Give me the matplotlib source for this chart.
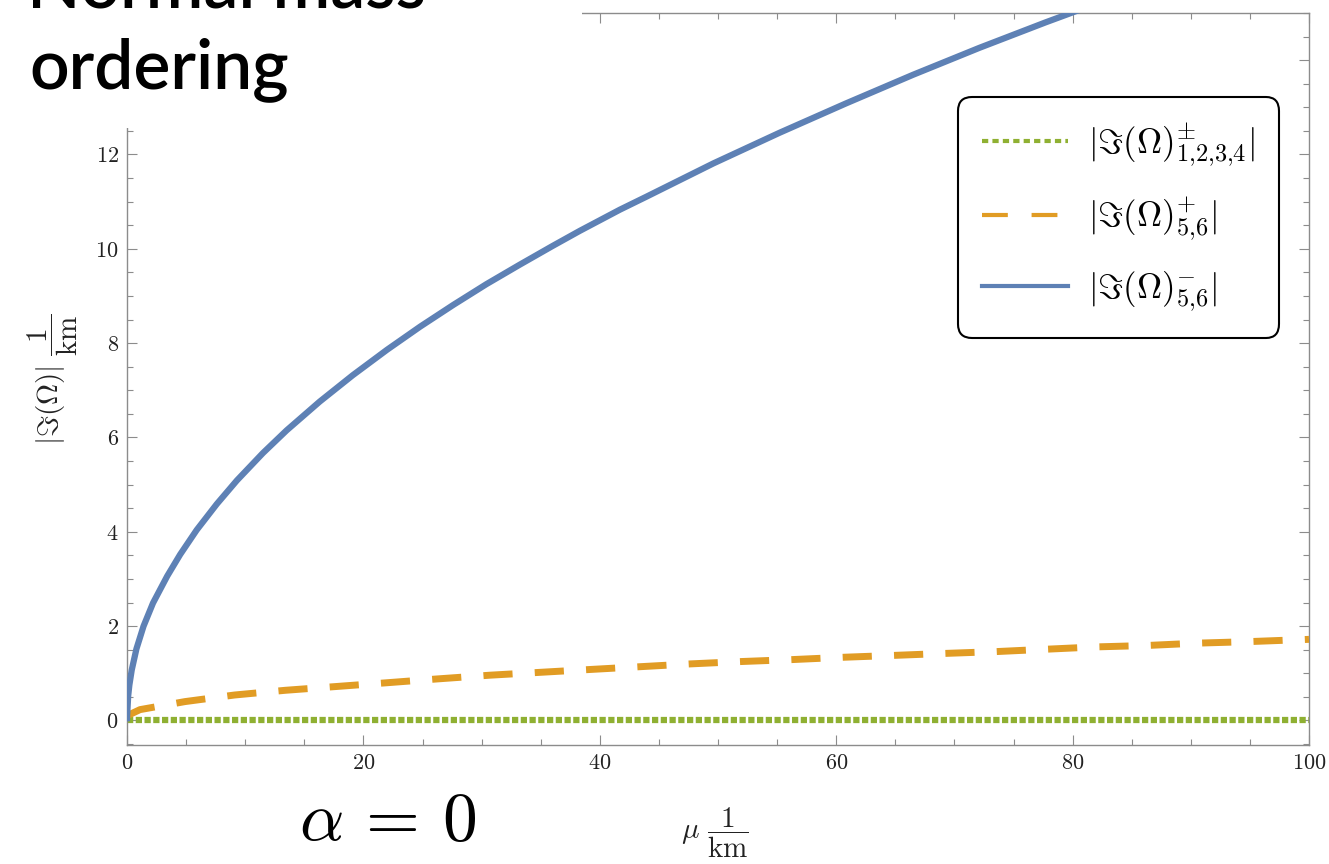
import matplotlib
matplotlib.use("Agg")
import matplotlib.pyplot as plt
from matplotlib.lines import Line2D
from matplotlib.patches import Rectangle
from matplotlib.ticker import MultipleLocator, FuncFormatter

plt.rcParams['mathtext.fontset'] = 'cm'

# values
mu_flat = [0, 100]
im_1234 = [0, 0]

mu_plus = [0, 1.1, 4.9, 9.1, 13.4, 17.7, 22.0, 26.2, 30.7, 34.9, 39.1, 43.4, 47.7,
           52.0, 56.2, 60.6, 64.9, 69.0, 73.5, 77.7, 82.0, 86.3, 90.6, 94.7, 100]
im_56_plus = [0.1, 0.23, 0.40, 0.54, 0.64, 0.72, 0.80, 0.88, 0.96, 1.02, 1.08, 1.14, 1.20,
              1.25, 1.29, 1.34, 1.38, 1.42, 1.46, 1.51, 1.56, 1.59, 1.64, 1.67, 1.72]

mu_minus = [0, 0.1, 0.2, 0.4, 0.8, 1.4, 2.2, 3.4, 4.5, 5.9, 7.6, 9.3, 11.5, 13.5, 16.3,
            19.1, 22.0, 24.8, 27.6, 30.4, 33.2, 36.0, 38.3, 41.7, 43.9, 49.6, 55.2, 60.8,
            66.5, 72.1, 77.7, 80.4]
im_56_minus = [0.05, 0.52, 0.75, 1.07, 1.52, 2.0, 2.49, 3.06, 3.52, 4.04, 4.59, 5.09, 5.67, 6.15,
               6.76, 7.32, 7.86, 8.35, 8.81, 9.25, 9.66, 10.06, 10.38, 10.83, 11.1, 11.81,
               12.46, 13.08, 13.69, 14.26, 14.8, 15.05]

labels = [r'$|\Im(\Omega)^{\pm}_{1{,}2{,}3{,}4}|$',
          r'$|\Im(\Omega)^{+}_{5{,}6}|$',
          r'$|\Im(\Omega)^{-}_{5{,}6}|$']

BLUE = '#5E81B5'
ORANGE = '#E19C24'
GREEN = '#8FB032'
AXC = '#8c8c8c'

fig = plt.figure(figsize=(13.29, 8.64), dpi=100)
ax = fig.add_axes([127 / 1329, 119 / 864, 1182 / 1329, 732 / 864])

ax.plot(mu_flat, im_1234, color=GREEN, lw=4.5, linestyle=(0, (1.0, 0.4)),
        dash_capstyle='butt', zorder=2)
ax.plot(mu_plus, im_56_plus, color=ORANGE, lw=5, linestyle=(0, (4.2, 3.2)),
        dash_capstyle='butt', zorder=3)
ax.plot(mu_minus, im_56_minus, color=BLUE, lw=4.5, zorder=4)

ax.set_xlim(0, 100)
ax.set_ylim(-0.52, 15)

for s in ax.spines.values():
    s.set_color(AXC)
    s.set_linewidth(1.0)

ax.xaxis.set_major_locator(MultipleLocator(20))
ax.xaxis.set_minor_locator(MultipleLocator(5))
ax.yaxis.set_major_locator(MultipleLocator(2))
ax.yaxis.set_minor_locator(MultipleLocator(0.5))
fmt = FuncFormatter(lambda v, p: f'${v:.0f}$')
ax.xaxis.set_major_formatter(fmt)
ax.yaxis.set_major_formatter(fmt)
ax.tick_params(which='both', direction='in', top=True, right=True, colors=AXC,
               labelcolor='#222222', labelsize=16, pad=6, width=0.8)
ax.tick_params(which='major', length=7)
ax.tick_params(which='minor', length=4)

ax.set_xlabel(r'$\mu\ \dfrac{1}{\mathrm{km}}$', fontsize=21, color='#222222')
ax.xaxis.set_label_coords(0.497, -0.083)
ax.set_ylabel(r'$|\Im(\Omega)|\ \dfrac{1}{\mathrm{km}}$', fontsize=21, color='#222222')
ax.yaxis.set_label_coords(-0.040, 0.50)

# legend with thinner sample lines, like the original
handles = [
    Line2D([], [], color=GREEN, lw=3, linestyle=(0, (1.5, 1.0)), dash_capstyle='butt'),
    Line2D([], [], color=ORANGE, lw=3, linestyle=(0, (6.2, 5.7)), dash_capstyle='butt'),
    Line2D([], [], color=BLUE, lw=3),
]
leg = ax.legend(handles, labels, loc='upper right', bbox_to_anchor=(0.975, 0.885),
                borderaxespad=0, fontsize=25, handlelength=2.45, handletextpad=0.6,
                labelspacing=0.76, borderpad=0.7, fancybox=True, framealpha=1)
frame = leg.get_frame()
frame.set_edgecolor('black')
frame.set_linewidth(1.5)
frame.set_boxstyle('round,pad=0,rounding_size=0.4')

# slide title box sitting over the top-left corner of the plot
fig.add_artist(Rectangle((0, 1 - 128 / 864), 582 / 1329, 128 / 864,
                         transform=fig.transFigure, facecolor='white',
                         edgecolor='none', zorder=5))
fig.text(27 / 1329, 1 - 8 / 864, 'Normal mass', fontsize=50, family='Lato',
         weight='semibold', va='baseline', ha='left', zorder=6)
fig.text(29 / 1329, 1 - 88 / 864, 'ordering', fontsize=50, family='Lato',
         weight='semibold', va='baseline', ha='left', zorder=6)

fig.text(388 / 1329, 1 - 820 / 864, r'$\alpha\,=\,0$', fontsize=50,
         ha='center', va='center')

fig.savefig('out.png', dpi=100)
